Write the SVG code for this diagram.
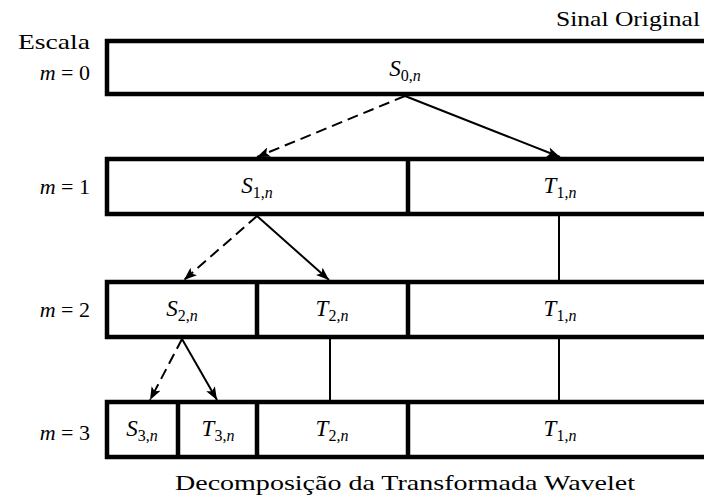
<svg xmlns="http://www.w3.org/2000/svg" width="704" height="497" viewBox="0 0 704 497">
<style>
.box{fill:#fff;stroke:#000;stroke-width:4.5}
.div{stroke:#000;stroke-width:4.5}
.t{font-family:'Liberation Serif','DejaVu Serif',serif;font-size:22px;fill:#000}
.m{font-family:'Liberation Serif','DejaVu Serif',serif;font-size:23px;fill:#000;text-anchor:middle}
.mi{font-style:italic}
.sub{font-size:16px}
.c{stroke:#000;stroke-width:2;fill:none}
.d{stroke-dasharray:11 6}
</style>
<defs>
<marker id="ah" viewBox="0 0 13 10" refX="13" refY="5" markerWidth="13" markerHeight="10" markerUnits="userSpaceOnUse" orient="auto">
<path d="M0,0 L13,5 L0,10 L3,5 Z" fill="#000"/>
</marker>
</defs>
<text class="t" x="700" y="26" text-anchor="end" textLength="144" lengthAdjust="spacingAndGlyphs">Sinal Original</text>
<text class="t" x="54" y="49" text-anchor="middle" textLength="72" lengthAdjust="spacingAndGlyphs">Escala</text>
<text class="t" x="405" y="490" text-anchor="middle" textLength="460" lengthAdjust="spacingAndGlyphs">Decomposição da Transformada Wavelet</text>
<g id="scale-labels">
<text class="t" x="90" y="80" text-anchor="end"><tspan class="mi">m</tspan> = 0</text>
<text class="t" x="90" y="194" text-anchor="end"><tspan class="mi">m</tspan> = 1</text>
<text class="t" x="90" y="317" text-anchor="end"><tspan class="mi">m</tspan> = 2</text>
<text class="t" x="90" y="440" text-anchor="end"><tspan class="mi">m</tspan> = 3</text>
</g>
<g id="row0">
<rect class="box" x="107" y="41" width="620" height="53"/>
<text class="m" x="405" y="76"><tspan class="mi">S</tspan><tspan class="sub" dy="5">0,</tspan><tspan class="sub mi">n</tspan></text>
</g>
<g id="row1">
<rect class="box" x="107" y="159" width="620" height="55"/>
<line class="div" x1="408" y1="159" x2="408" y2="214"/>
<text class="m" x="257" y="193"><tspan class="mi">S</tspan><tspan class="sub" dy="5">1,</tspan><tspan class="sub mi">n</tspan></text>
<text class="m" x="560" y="193"><tspan class="mi">T</tspan><tspan class="sub" dy="5">1,</tspan><tspan class="sub mi">n</tspan></text>
</g>
<g id="row2">
<rect class="box" x="107" y="282" width="620" height="55"/>
<line class="div" x1="257" y1="282" x2="257" y2="337"/>
<line class="div" x1="408" y1="282" x2="408" y2="337"/>
<text class="m" x="182" y="316"><tspan class="mi">S</tspan><tspan class="sub" dy="5">2,</tspan><tspan class="sub mi">n</tspan></text>
<text class="m" x="332" y="316"><tspan class="mi">T</tspan><tspan class="sub" dy="5">2,</tspan><tspan class="sub mi">n</tspan></text>
<text class="m" x="560" y="316"><tspan class="mi">T</tspan><tspan class="sub" dy="5">1,</tspan><tspan class="sub mi">n</tspan></text>
</g>
<g id="row3">
<rect class="box" x="107" y="402" width="620" height="55"/>
<line class="div" x1="178" y1="402" x2="178" y2="457"/>
<line class="div" x1="257" y1="402" x2="257" y2="457"/>
<line class="div" x1="408" y1="402" x2="408" y2="457"/>
<text class="m" x="142" y="436"><tspan class="mi">S</tspan><tspan class="sub" dy="5">3,</tspan><tspan class="sub mi">n</tspan></text>
<text class="m" x="218" y="436"><tspan class="mi">T</tspan><tspan class="sub" dy="5">3,</tspan><tspan class="sub mi">n</tspan></text>
<text class="m" x="332" y="436"><tspan class="mi">T</tspan><tspan class="sub" dy="5">2,</tspan><tspan class="sub mi">n</tspan></text>
<text class="m" x="560" y="436"><tspan class="mi">T</tspan><tspan class="sub" dy="5">1,</tspan><tspan class="sub mi">n</tspan></text>
</g>
<g id="connectors">
<line class="c d" x1="405" y1="96" x2="257" y2="157" marker-end="url(#ah)"/>
<line class="c" x1="405" y1="96" x2="560" y2="157" marker-end="url(#ah)"/>
<line class="c d" x1="257" y1="216" x2="184" y2="280" marker-end="url(#ah)"/>
<line class="c" x1="257" y1="216" x2="329" y2="280" marker-end="url(#ah)"/>
<line class="c d" x1="182" y1="339" x2="150" y2="400" marker-end="url(#ah)"/>
<line class="c" x1="182" y1="339" x2="217" y2="400" marker-end="url(#ah)"/>
<line class="c" x1="559" y1="216" x2="559" y2="280"/>
<line class="c" x1="559" y1="339" x2="559" y2="400"/>
<line class="c" x1="330" y1="339" x2="330" y2="400"/>
</g>
</svg>
